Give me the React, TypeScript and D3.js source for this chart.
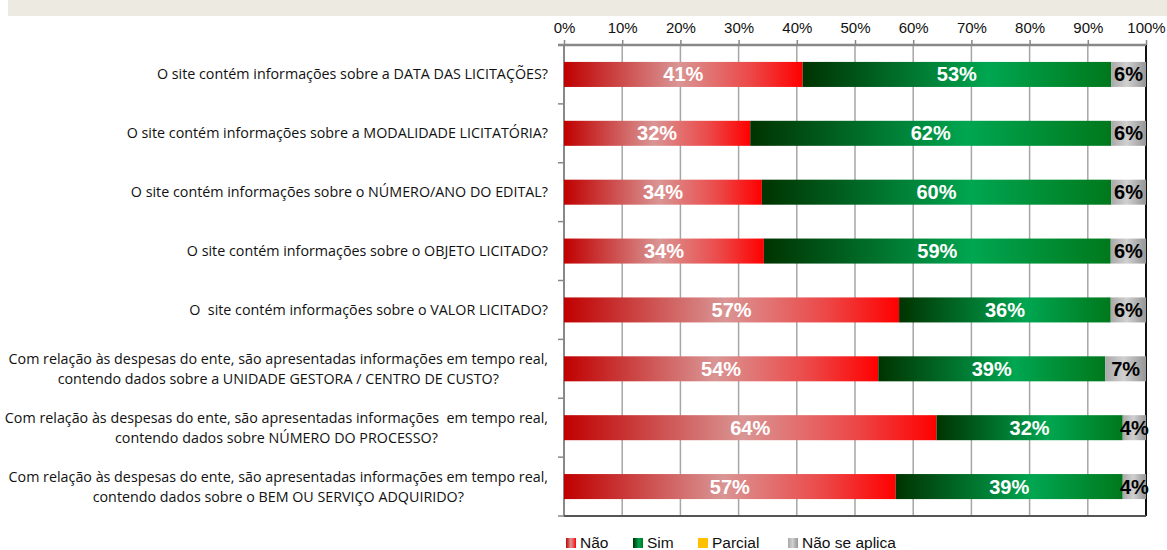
import { useEffect, useRef } from 'react';
import * as d3 from "d3";

// categorias (quebra de linha com \n)
const categories = [
    "O site contém informações sobre a DATA DAS LICITAÇÕES?",
    "O site contém informações sobre a MODALIDADE LICITATÓRIA?",
    "O site contém informações sobre o NÚMERO/ANO DO EDITAL?",
    "O site contém informações sobre o OBJETO LICITADO?",
    "O  site contém informações sobre o VALOR LICITADO?",
    "Com relação às despesas do ente, são apresentadas informações em tempo real,\ncontendo dados sobre a UNIDADE GESTORA / CENTRO DE CUSTO?",
    "Com relação às despesas do ente, são apresentadas informações  em tempo real,\ncontendo dados sobre NÚMERO DO PROCESSO?",
    "Com relação às despesas do ente, são apresentadas informações em tempo real,\ncontendo dados sobre o BEM OU SERVIÇO ADQUIRIDO?",
];

const nao = [41, 32, 34, 34, 57, 54, 64, 57];
const sim = [53, 62, 60, 59, 36, 39, 32, 39];
const parcial = [0, 0, 0, 0, 0, 0, 0, 0];
const naoSeAplica = [6, 6, 6, 6, 6, 7, 4, 4];

const seriesNames = ["Não", "Sim", "Parcial", "Não se aplica"];
const tickValues = [0, 0.1, 0.2, 0.3, 0.4, 0.5, 0.6, 0.7, 0.8, 0.9, 1];

const App: React.FC = () => {
    const chart = useRef<SVGSVGElement | null>(null);

    useEffect(() => {
        if (!chart.current) return;

        const width = 1167;
        const height = 550;
        const margin = { top: 45, right: 21, bottom: 34, left: 564 };
        const innerWidth = width - margin.left - margin.right;
        const innerHeight = height - margin.top - margin.bottom;

        const svg = d3.select(chart.current)
            .attr("width", width)
            .attr("height", height);
        svg.selectAll("*").remove();

        // gradientes
        const defs = svg.append("defs");
        const grads: { id: string, stops: [number, string][] }[] = [
            { id: "g-nao", stops: [[0, "#C00000"], [0.48, "#D99594"], [0.78, "#EC4848"], [1, "#FF0000"]] },
            { id: "g-sim", stops: [[0, "#003300"], [0.6, "#00A651"], [1, "#00781C"]] },
            { id: "g-parcial", stops: [[0, "#FFC000"], [1, "#FFC000"]] },
            { id: "g-na", stops: [[0, "#A8A8A8"], [0.45, "#D0D0D0"], [1, "#969696"]] },
        ];
        grads.forEach(g => {
            const lg = defs.append("linearGradient")
                .attr("id", g.id)
                .attr("x1", "0").attr("x2", "1").attr("y1", "0").attr("y2", "0");
            g.stops.forEach(([o, c]) => {
                lg.append("stop").attr("offset", o).attr("stop-color", c);
            });
        });
        const fills = ["url(#g-nao)", "url(#g-sim)", "url(#g-parcial)", "url(#g-na)"];
        const textColors = ["white", "white", "black", "black"];

        // faixa do título
        svg.append("rect")
            .attr("x", 8).attr("y", 0)
            .attr("width", width - 8).attr("height", 16)
            .attr("fill", "#EDEBE1");

        // dados empilhados
        const rows = categories.map((c, i) => ({
            cat: c,
            "Não": nao[i],
            "Sim": sim[i],
            "Parcial": parcial[i],
            "Não se aplica": naoSeAplica[i],
        }));
        const stacked = d3.stack<any>()
            .keys(seriesNames)
            .offset(d3.stackOffsetExpand)(rows);

        const x = d3.scaleLinear().domain([0, 1]).range([0, innerWidth]);
        const y = d3.scaleBand()
            .domain(categories)
            .range([0, innerHeight])
            .paddingInner(0.575)
            .paddingOuter(0.2875);
        const step = y.step();

        const g = svg.append("g")
            .attr("transform", `translate(${margin.left}, ${margin.top})`);

        // linhas de grade
        g.selectAll(".grid")
            .data(tickValues.slice(1, -1))
            .enter()
            .append("line")
            .attr("x1", d => x(d)).attr("x2", d => x(d))
            .attr("y1", 0).attr("y2", innerHeight)
            .attr("stroke", "#A6A6A6")
            .attr("stroke-width", 1.5);

        // eixo esquerdo
        g.append("line")
            .attr("x1", 0).attr("x2", 0)
            .attr("y1", 0).attr("y2", innerHeight)
            .attr("stroke", "#888").attr("stroke-width", 2);
        g.selectAll(".ltick")
            .data(d3.range(categories.length + 1))
            .enter()
            .append("line")
            .attr("x1", -6).attr("x2", 0)
            .attr("y1", d => d * step).attr("y2", d => d * step)
            .attr("stroke", "#888").attr("stroke-width", 1.5);

        // borda direita e inferior
        g.append("line")
            .attr("x1", innerWidth).attr("x2", innerWidth)
            .attr("y1", 0).attr("y2", innerHeight)
            .attr("stroke", "#111").attr("stroke-width", 2);
        g.append("line")
            .attr("x1", 0).attr("x2", innerWidth)
            .attr("y1", innerHeight).attr("y2", innerHeight)
            .attr("stroke", "#555").attr("stroke-width", 2);

        // eixo superior
        const top = g.append("g")
            .call(d3.axisTop(x).tickValues(tickValues).tickFormat(d3.format(".0%")).tickSize(5).tickPadding(7));
        top.select(".domain").attr("stroke", "#888").attr("stroke-width", 2.5)
            .attr("d", `M-6,0H${innerWidth}`);
        top.selectAll(".tick line").attr("stroke", "#888").attr("stroke-width", 1.5);
        top.selectAll(".tick text")
            .attr("font-family", "'Liberation Sans', Arial, sans-serif")
            .attr("font-size", "15px")
            .attr("fill", "#111");

        // barras
        stacked.forEach((s, si) => {
            g.selectAll(`.bar-${si}`)
                .data(s)
                .enter()
                .append("rect")
                .attr("x", d => x(d[0]))
                .attr("y", d => y(d.data.cat) || 0)
                .attr("width", d => x(d[1]) - x(d[0]))
                .attr("height", y.bandwidth())
                .attr("fill", fills[si]);
        });

        // rótulos de valor
        stacked.forEach((s, si) => {
            g.selectAll(`.lbl-${si}`)
                .data(s.filter(d => d.data[seriesNames[si]] > 0))
                .enter()
                .append("text")
                .attr("x", d => (x(d[0]) + x(d[1])) / 2)
                .attr("y", d => (y(d.data.cat) || 0) + y.bandwidth() / 2 + 7)
                .attr("text-anchor", "middle")
                .attr("font-family", "'Liberation Sans', Arial, sans-serif")
                .attr("font-weight", "bold")
                .attr("font-size", "20px")
                .attr("fill", textColors[si])
                .text(d => `${d.data[seriesNames[si]]}%`);
        });

        // rótulos das categorias
        const labelRight = 548;
        categories.forEach((c, i) => {
            const lines = c.split("\n");
            const cy = margin.top + (y(c) || 0) + y.bandwidth() / 2;
            const texts = lines.map((ln, li) =>
                svg.append("text")
                    .attr("y", cy + (li - (lines.length - 1) / 2) * 20 + 5)
                    .attr("font-family", "'Open Sans', sans-serif")
                    .attr("font-size", "14.3px")
                    .attr("fill", "#111")
                    .style("white-space", "pre")
                    .text(ln)
            );
            const w = Math.max(...texts.map(t => (t.node() as SVGTextElement).getComputedTextLength()));
            texts.forEach(t => t.attr("x", labelRight - w / 2).attr("text-anchor", "middle"));
        });

        // legenda
        const legendX = [566, 633, 698, 788];
        const legend = svg.append("g");
        seriesNames.forEach((name, i) => {
            legend.append("rect")
                .attr("x", legendX[i]).attr("y", 538)
                .attr("width", 10).attr("height", 10)
                .attr("fill", fills[i]);
            legend.append("text")
                .attr("x", legendX[i] + 14).attr("y", 548)
                .attr("font-family", "'Liberation Sans', Arial, sans-serif")
                .attr("font-size", "15.5px")
                .attr("fill", "#111")
                .text(name);
        });
    }, []);

    return (
        <div>
            <svg ref={chart} style={{ position: "absolute", left: 0, top: 0 }}></svg>
        </div>
    );
}

export default App;
